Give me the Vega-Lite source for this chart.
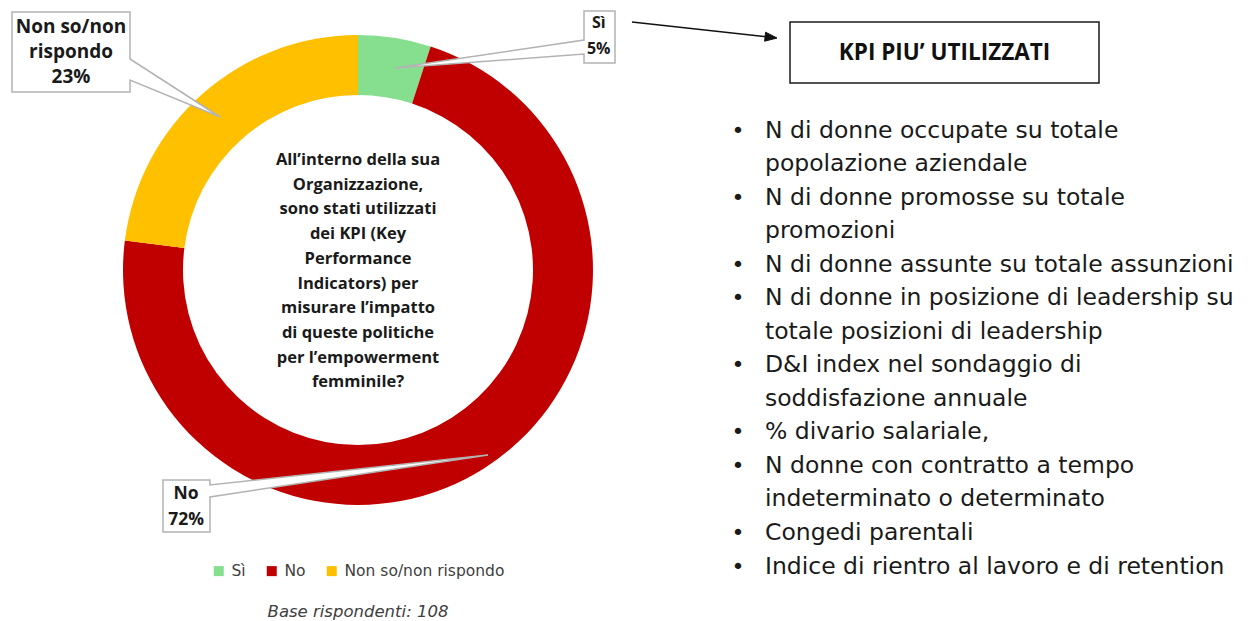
{
  "$schema": "https://vega.github.io/schema/vega-lite/v6.json",
  "background": "white",
  "padding": {"left": 0, "top": 8, "right": 0, "bottom": 0},
  "bounds": "flush",
  "spacing": 74,
  "config": {"view": {"stroke": null}, "font": "Open Sans"},
  "hconcat": [
    {
      "width": 716,
      "height": 496,
      "view": {"fill": "white", "stroke": null},
      "data": {
        "values": [
          {"cat": "Sì", "value": 5, "ord": 1, "label": "Sì\n5%"},
          {"cat": "No", "value": 72, "ord": 2, "label": "No\n72%"},
          {"cat": "Non so/non rispondo", "value": 23, "ord": 3, "label": "Non so/non\nrispondo\n23%"}
        ]
      },
      "layer": [
        {
          "mark": {"type": "arc", "outerRadius": 235, "innerRadius": 175, "stroke": null},
          "encoding": {
            "theta": {"field": "value", "type": "quantitative", "stack": true},
            "order": {"field": "ord", "type": "quantitative"},
            "color": {
              "field": "cat",
              "type": "nominal",
              "scale": {"domain": ["Sì", "No", "Non so/non rispondo"], "range": ["#86DE8F", "#C00000", "#FFC000"]},
              "legend": {
                "orient": "none",
                "legendX": 211,
                "legendY": 541,
                "direction": "horizontal",
                "title": null,
                "symbolType": "square",
                "symbolSize": 100,
                "symbolStrokeWidth": 0,
                "labelFont": "DejaVu Sans",
                "labelFontSize": 15.5,
                "labelColor": "#404040",
                "labelOffset": 5,
                "columnPadding": 18
              }
            }
          }
        },
        {
          "data": {"values": [{}]},
          "mark": {"type": "point", "shape": "M-346,-258H-228V-211L-138,-153L-228,-190V-178H-346Z", "size": 4, "filled": true, "fill": "white", "stroke": "#b3b3b3", "strokeWidth": 1.5, "opacity": 1},
          "encoding": {}
        },
        {
          "data": {"values": [{}]},
          "mark": {"type": "point", "shape": "M226,-259H257V-207H226V-216L37,-202L226,-230Z", "size": 4, "filled": true, "fill": "white", "stroke": "#b3b3b3", "strokeWidth": 1.5, "opacity": 1},
          "encoding": {}
        },
        {
          "data": {"values": [{}]},
          "mark": {"type": "point", "shape": "M-195,210H-148V215L130,185L-148,227V262H-195Z", "size": 4, "filled": true, "fill": "white", "stroke": "#b3b3b3", "strokeWidth": 1.5, "opacity": 1},
          "encoding": {}
        },
        {
          "data": {"values": [{}]},
          "mark": {"type": "point", "shape": "M274,-248L408,-233.3", "size": 4, "filled": false, "fill": "transparent", "stroke": "#111111", "strokeWidth": 1.5, "opacity": 1},
          "encoding": {}
        },
        {
          "data": {"values": [{}]},
          "mark": {"type": "point", "shape": "M419,-232L407.6,-237.8L406.6,-228.8Z", "size": 4, "filled": true, "fill": "#111111", "stroke": "#111111", "strokeWidth": 1, "opacity": 1},
          "encoding": {}
        },
        {
          "transform": [
            {"stack": "value", "groupby": [], "sort": [{"field": "ord", "order": "ascending"}], "as": ["v0", "v1"]},
            {"filter": "datum.cat === 'Sì'"}
          ],
          "mark": {"type": "text", "radius": 345.1, "thetaOffset": 0.772, "font": "Open Sans", "fontWeight": "bold", "fontSize": 16, "lineBreak": "\n", "lineHeight": 26, "align": "center", "baseline": "middle", "color": "#1a1a1a"},
          "encoding": {
            "theta": {"field": "v0", "type": "quantitative", "stack": null},
            "text": {"field": "label"}
          }
        },
        {
          "transform": [
            {"stack": "value", "groupby": [], "sort": [{"field": "ord", "order": "ascending"}], "as": ["v0", "v1"]},
            {"filter": "datum.cat === 'No'"}
          ],
          "mark": {"type": "text", "radius": 282.4, "thetaOffset": 3.482, "font": "Open Sans", "fontWeight": "bold", "fontSize": 17.5, "lineBreak": "\n", "lineHeight": 26, "align": "center", "baseline": "middle", "color": "#1a1a1a"},
          "encoding": {
            "theta": {"field": "v0", "type": "quantitative", "stack": null},
            "text": {"field": "label"}
          }
        },
        {
          "transform": [
            {"stack": "value", "groupby": [], "sort": [{"field": "ord", "order": "ascending"}], "as": ["v0", "v1"]},
            {"filter": "datum.cat === 'Non so/non rispondo'"}
          ],
          "mark": {"type": "text", "radius": 376.1, "thetaOffset": 0.577, "font": "Open Sans", "fontWeight": "bold", "fontSize": 19, "lineBreak": "\n", "lineHeight": 25, "align": "center", "baseline": "middle", "color": "#1a1a1a"},
          "encoding": {
            "theta": {"field": "v0", "type": "quantitative", "stack": null},
            "text": {"field": "label"}
          }
        },
        {
          "data": {"values": [{"q": "All’interno della sua\nOrganizzazione,\nsono stati utilizzati\ndei KPI (Key\nPerformance\nIndicators) per\nmisurare l’impatto\ndi queste politiche\nper l’empowerment\nfemminile?"}]},
          "mark": {"type": "text", "dy": -110, "font": "Open Sans", "fontWeight": "bold", "fontSize": 16.5, "lineBreak": "\n", "lineHeight": 24.7, "align": "center", "baseline": "middle", "color": "#1a1a1a"},
          "encoding": {"text": {"field": "q"}}
        },
        {
          "data": {"values": [{"note": "Base rispondenti: 108"}]},
          "mark": {"type": "text", "dy": 342, "font": "DejaVu Sans", "fontStyle": "italic", "fontSize": 16.5, "align": "center", "baseline": "middle", "color": "#404040"},
          "encoding": {"text": {"field": "note"}}
        }
      ]
    },
    {
      "bounds": "flush",
      "spacing": 49,
      "vconcat": [
        {
          "width": 309,
          "height": 61,
          "view": {"stroke": "#1a1a1a", "strokeWidth": 1.5},
          "data": {"values": [{"t": "KPI PIU’ UTILIZZATI"}]},
          "mark": {"type": "text", "font": "Open Sans", "fontWeight": "bold", "fontSize": 22.5, "align": "center", "baseline": "middle", "color": "#111111"},
          "encoding": {"text": {"field": "t"}}
        },
        {
          "width": 430,
          "height": 436,
          "data": {
            "values": [
              {"n": 1, "line": "N di donne occupate su totale", "first": true},
              {"n": 2, "line": "popolazione aziendale", "first": false},
              {"n": 3, "line": "N di donne promosse su totale", "first": true},
              {"n": 4, "line": "promozioni", "first": false},
              {"n": 5, "line": "N di donne assunte su totale assunzioni", "first": true},
              {"n": 6, "line": "N di donne in posizione di leadership su", "first": true},
              {"n": 7, "line": "totale posizioni di leadership", "first": false},
              {"n": 8, "line": "D&I index nel sondaggio di", "first": true},
              {"n": 9, "line": "soddisfazione annuale", "first": false},
              {"n": 10, "line": "% divario salariale,", "first": true},
              {"n": 11, "line": "N donne con contratto a tempo", "first": true},
              {"n": 12, "line": "indeterminato o determinato", "first": false},
              {"n": 13, "line": "Congedi parentali", "first": true},
              {"n": 14, "line": "Indice di rientro al lavoro e di retention", "first": true}
            ]
          },
          "encoding": {
            "y": {"field": "n", "type": "ordinal", "axis": null, "scale": {"type": "point", "padding": 0}}
          },
          "layer": [
            {
              "mark": {"type": "text", "x": -25, "dy": -1.5, "align": "left", "baseline": "middle", "font": "DejaVu Sans", "fontSize": 23.5, "color": "#1a1a1a"},
              "encoding": {"text": {"field": "line"}}
            },
            {
              "mark": {"type": "text", "x": -52, "dy": -1.5, "align": "center", "baseline": "middle", "font": "DejaVu Sans", "fontSize": 22, "color": "#1a1a1a"},
              "encoding": {"text": {"condition": {"test": "datum.first", "value": "•"}, "value": ""}}
            }
          ]
        }
      ]
    }
  ]
}
